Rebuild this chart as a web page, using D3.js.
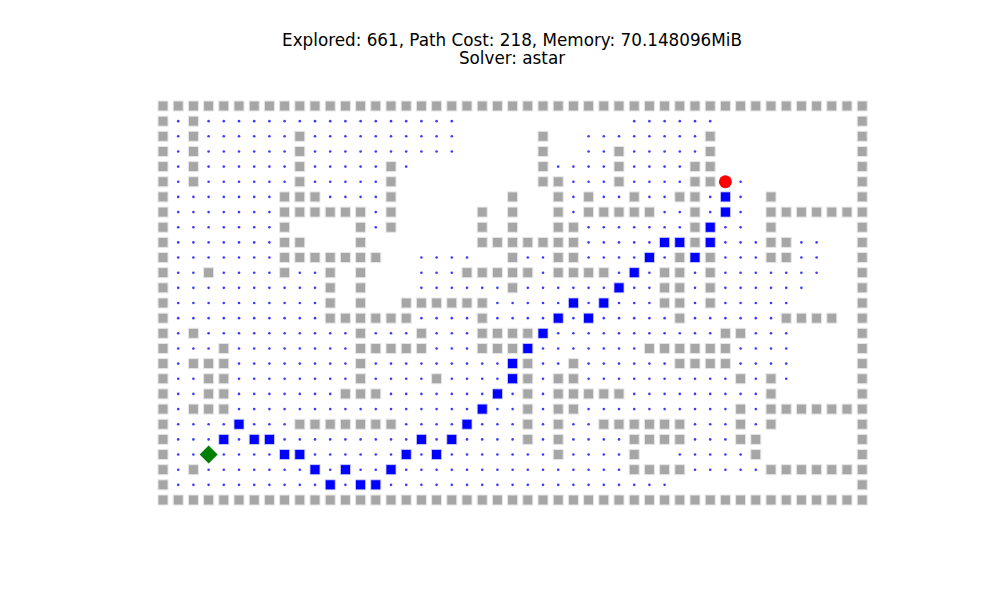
<!DOCTYPE html>
<html><head><meta charset="utf-8">
<script src="https://cdn.jsdelivr.net/npm/d3@7"></script>
<style>body{margin:0;background:#fff}</style></head>
<body><svg id="c" width="1000" height="600"></svg>
<script>
const title1 = "Explored: 661, Path Cost: 218, Memory: 70.148096MiB";
const title2 = "Solver: astar";
// # wall, . explored, P path, S start, G goal
const gridRows = [
"###############################################",
"#.#.................           ......         #",
"#.#......#..........     #  ........#         #",
"#.#......#..........     #  ..#.....#         #",
"#.#......#.....#.        #....#....##         #",
"#.#......#.....#         ##...#....##G.       #",
"#.......###....#       #  #.#..#..##.P. #     #",
"#.......######.#     # #  #.#####..#.P. #######",
"#.......#    #.#     # #  ##.......#P.. #     #",
"#.......##   #       #######.....PP#P...##..  #",
"#.......#######  ....  #..##....P.#P#...##..  #",
"#..#....#..# #   ...#####.####.P.##.#.......  #",
"#..........# #   ......#......P..##.#......   #",
"#..........# #  ######.....P.P...##.#.....    #",
"#..........######....#....P.P.....#......#### #",
"#.#..........#...#...####P...........##...    #",
"#...#........#####...###P.......######....    #",
"#.###........#.........P#..#......####....    #",
"#..##........#....#....P#.##..........#.#.    #",
"#..##.......###.......P.#.#####.........#     #",
"#.###................P..#.##..........#.#######",
"#....P...#######....P...#.#..######...#.#     #",
"#...P.PP.........P.P....#.#....####...##      #",
"#..S....PP......P.P.......#....#  .....#      #",
"#.#.......P.P..P...............####.....#######",
"#..........P.PP...................            #",
"###############################################"
];
const cells = [];
gridRows.forEach((row, r) => row.split("").forEach((ch, c) => { if (ch !== " ") cells.push({r, c, t: ch}); }));

const svg = d3.select("#c");
const x = d3.scaleLinear().domain([0, 46]).range([163, 862.2]);
const y = d3.scaleLinear().domain([0, 26]).range([106, 500]);

svg.append("text").attr("x", 512).attr("y", 46).attr("text-anchor", "middle")
  .attr("font-family", "DejaVu Sans").attr("font-size", 16.8).text(title1);
svg.append("text").attr("x", 512).attr("y", 64).attr("text-anchor", "middle")
  .attr("font-family", "DejaVu Sans").attr("font-size", 16.8).text(title2);

const s = 10;
svg.selectAll(".wall").data(cells.filter(d => d.t === "#")).join("rect")
  .attr("x", d => x(d.c) - s/2).attr("y", d => y(d.r) - s/2).attr("width", s).attr("height", s)
  .attr("fill", "#a6a6a6").attr("stroke", "#e6e6e6").attr("stroke-width", 1);
svg.selectAll(".exp").data(cells.filter(d => d.t === ".")).join("circle")
  .attr("cx", d => x(d.c)).attr("cy", d => y(d.r)).attr("r", 1.3).attr("fill", "#3a3aff");
svg.selectAll(".path").data(cells.filter(d => d.t === "P")).join("rect")
  .attr("x", d => x(d.c) - s/2).attr("y", d => y(d.r) - s/2).attr("width", s).attr("height", s)
  .attr("fill", "#0000ff").attr("stroke", "#ccccff").attr("stroke-width", 0.8);
cells.filter(d => d.t === "G").forEach(d => {
  svg.append("circle").attr("cx", x(d.c)).attr("cy", y(d.r)).attr("r", 6.5).attr("fill", "#ff0000");
});
cells.filter(d => d.t === "S").forEach(d => {
  svg.append("path").attr("transform", `translate(${x(d.c)},${y(d.r)})`)
    .attr("d", "M0,-9L9,0L0,9L-9,0Z").attr("fill", "#008000");
});
</script></body></html>
